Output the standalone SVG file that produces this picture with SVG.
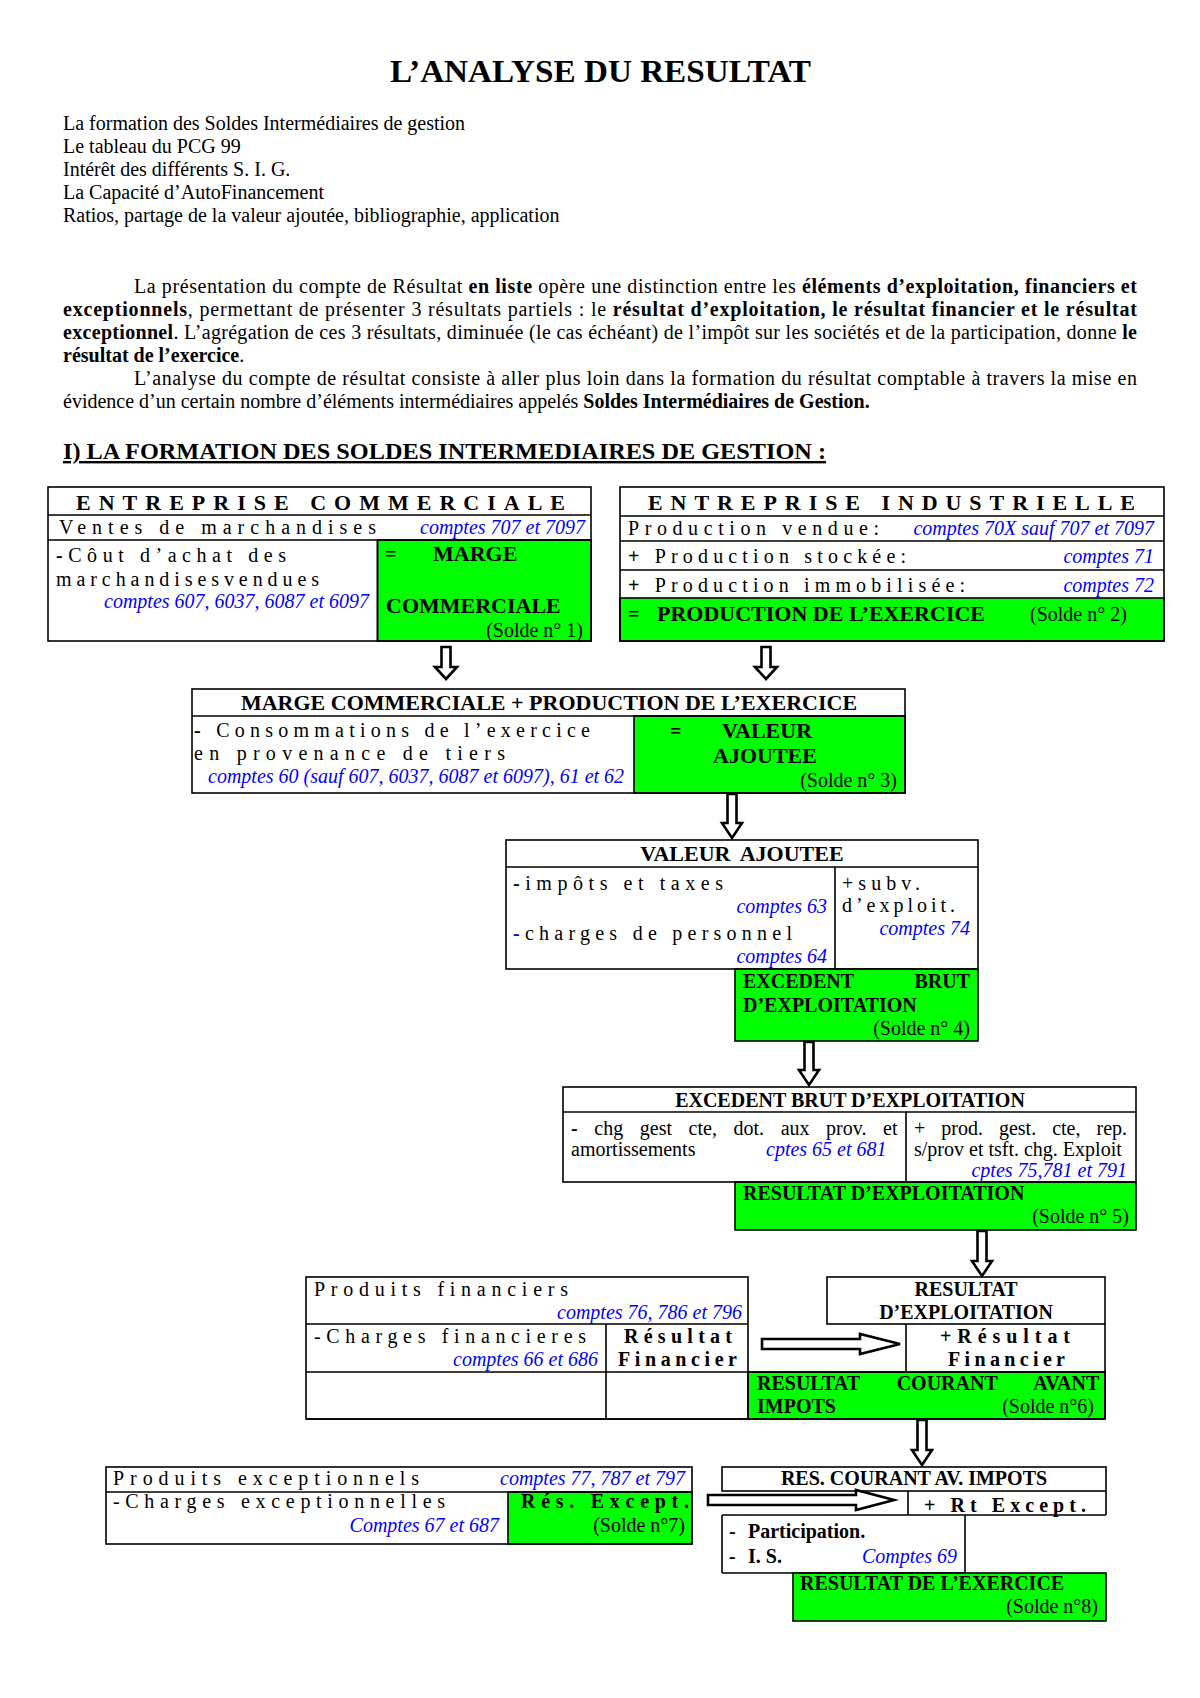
<svg xmlns="http://www.w3.org/2000/svg" width="1200" height="1698" viewBox="0 0 1200 1698">
<style>
text{font-family:"Liberation Serif","Times New Roman",serif;font-size:20px;fill:#000}
.b{font-weight:bold}
.h22{font-size:22px;font-weight:bold}
.i{font-style:italic;fill:#0000FF}
.e{text-anchor:end}
.m{text-anchor:middle}
.ln{fill:none;stroke:#000;stroke-width:1.6}
.g{fill:#00FF00;stroke:#000;stroke-width:1.6}
.arr{fill:#fff;stroke:#000;stroke-width:2.6;stroke-linejoin:miter}
</style>
<rect width="1200" height="1698" fill="#fff"/>

<g id="intro">
<text x="390" y="82" class="b" style="font-size:32px" textLength="421" lengthAdjust="spacingAndGlyphs">L’ANALYSE DU RESULTAT</text>
<text x="63" y="130">La formation des Soldes Intermédiaires de gestion</text>
<text x="63" y="153">Le tableau du PCG 99</text>
<text x="63" y="176">Intérêt des différents S. I. G.</text>
<text x="63" y="199">La Capacité d’AutoFinancement</text>
<text x="63" y="222">Ratios, partage de la valeur ajoutée, bibliographie, application</text>
<text x="134" y="293" textLength="1003" lengthAdjust="spacing">La présentation du compte de Résultat <tspan class="b">en liste</tspan> opère une distinction entre les <tspan class="b">éléments d’exploitation, financiers et</tspan></text>
<text x="63" y="316" textLength="1074" lengthAdjust="spacing"><tspan class="b">exceptionnels</tspan>, permettant de présenter 3 résultats partiels : le <tspan class="b">résultat d’exploitation, le résultat financier et le résultat</tspan></text>
<text x="63" y="339" textLength="1074" lengthAdjust="spacing"><tspan class="b">exceptionnel</tspan>. L’agrégation de ces 3 résultats, diminuée (le cas échéant) de l’impôt sur les sociétés et de la participation, donne <tspan class="b">le</tspan></text>
<text x="63" y="362"><tspan class="b">résultat de l’exercice</tspan>.</text>
<text x="134" y="385" textLength="1003" lengthAdjust="spacing">L’analyse du compte de résultat consiste à aller plus loin dans la formation du résultat comptable à travers la mise en</text>
<text x="63" y="408">évidence d’un certain nombre d’éléments intermédiaires appelés <tspan class="b">Soldes Intermédiaires de Gestion.</tspan></text>
<text x="63" y="459" class="b" style="font-size:24px;text-decoration:underline" textLength="763" lengthAdjust="spacingAndGlyphs">I) LA FORMATION DES SOLDES INTERMEDIAIRES DE GESTION :</text>
</g>

<g id="commerciale">
<rect x="377.5" y="540" width="213.5" height="101" class="g"/>
<rect x="48" y="487" width="543" height="154" class="ln"/>
<path d="M48 515H591M48 540H591M377.5 540V641" class="ln"/>
<text x="76" y="510" class="h22" textLength="489" lengthAdjust="spacing">ENTREPRISE COMMERCIALE</text>
<text x="59" y="534" textLength="317" lengthAdjust="spacing">Ventes de marchandises</text>
<text x="585" y="534" class="i e">comptes 707 et 7097</text>
<text x="56" y="562" textLength="230" lengthAdjust="spacing"><tspan class="b">-</tspan>Côut d’achat des</text>
<text x="56" y="586" textLength="263" lengthAdjust="spacing">marchandisesvendues</text>
<text x="369" y="608" class="i e">comptes 607, 6037, 6087 et 6097</text>
<text x="385" y="561" class="b">=</text>
<text x="433" y="561" class="h22">MARGE</text>
<text x="386" y="613" class="h22">COMMERCIALE</text>
<text x="583" y="637" class="e">(Solde n° 1)</text>
</g>

<g id="industrielle">
<rect x="620" y="598" width="544" height="43" class="g"/>
<rect x="620" y="487" width="544" height="154" class="ln"/>
<path d="M620 516H1164M620 541H1164M620 570H1164" class="ln"/>
<text x="648" y="510" class="h22" textLength="487" lengthAdjust="spacing">ENTREPRISE INDUSTRIELLE</text>
<text x="628" y="535" textLength="251" lengthAdjust="spacing">Production vendue:</text>
<text x="1154" y="535" class="i e">comptes 70X sauf 707 et 7097</text>
<text x="628" y="563" textLength="278" lengthAdjust="spacing"><tspan class="b">+</tspan> Production stockée:</text>
<text x="1154" y="563" class="i e">comptes 71</text>
<text x="628" y="592" textLength="337" lengthAdjust="spacing"><tspan class="b">+</tspan> Production immobilisée:</text>
<text x="1154" y="592" class="i e">comptes 72</text>
<text x="628" y="621" class="b">=</text>
<text x="657" y="621" class="h22">PRODUCTION DE L’EXERCICE</text>
<text x="1030" y="621">(Solde n° 2)</text>
</g>

<g id="valeur-ajoutee-formation">
<rect x="634" y="716" width="271" height="77" class="g"/>
<rect x="192" y="689" width="713" height="104" class="ln"/>
<path d="M192 716H905" class="ln"/>
<text x="549" y="710" class="h22 m">MARGE COMMERCIALE + PRODUCTION DE L’EXERCICE</text>
<text x="194" y="737" textLength="396" lengthAdjust="spacing"><tspan class="b">-</tspan> Consommations de l’exercice</text>
<text x="194" y="760" textLength="311" lengthAdjust="spacing">en provenance de tiers</text>
<text x="208" y="783" class="i">comptes 60 (sauf 607, 6037, 6087 et 6097), 61 et 62</text>
<text x="670" y="738" class="b">=</text>
<text x="722" y="738" class="h22">VALEUR</text>
<text x="713" y="763" class="h22">AJOUTEE</text>
<text x="897" y="787" class="e">(Solde n° 3)</text>
</g>

<g id="ebe-formation">
<rect x="735" y="969" width="243" height="72" class="g"/>
<rect x="506" y="840" width="472" height="129" class="ln"/>
<path d="M506 867H978M835 867V969" class="ln"/>
<text x="742" y="861" class="h22 m" word-spacing="5">VALEUR AJOUTEE</text>
<text x="513" y="890" textLength="210" lengthAdjust="spacing"><tspan class="b">-</tspan>impôts et taxes</text>
<text x="827" y="913" class="i e">comptes 63</text>
<text x="513" y="940" textLength="279" lengthAdjust="spacing"><tspan class="b" fill="#0000FF">-</tspan>charges de personnel</text>
<text x="827" y="963" class="i e">comptes 64</text>
<text x="842" y="890" textLength="78" lengthAdjust="spacing">+subv.</text>
<text x="842" y="912" textLength="113" lengthAdjust="spacing">d’exploit.</text>
<text x="970" y="935" class="i e">comptes 74</text>
<text x="743" y="988" class="b">EXCEDENT</text>
<text x="970" y="988" class="b e">BRUT</text>
<text x="743" y="1012" class="b">D’EXPLOITATION</text>
<text x="970" y="1035" class="e">(Solde n° 4)</text>
</g>

<g id="resultat-exploitation">
<rect x="735" y="1182" width="401" height="48" class="g"/>
<rect x="563" y="1087" width="573" height="95" class="ln"/>
<path d="M563 1112H1136M906 1112V1182" class="ln"/>
<text x="850" y="1107" class="b m">EXCEDENT BRUT D’EXPLOITATION</text>
<text x="571" y="1135" word-spacing="11.6"><tspan class="b">-</tspan> chg gest cte, dot. aux prov. et</text>
<text x="571" y="1156">amortissements</text>
<text x="766" y="1156" class="i">cptes 65 et 681</text>
<text x="914" y="1135" word-spacing="11">+ prod. gest. cte, rep.</text>
<text x="914" y="1156">s/prov et tsft. chg. Exploit</text>
<text x="1127" y="1177" class="i e">cptes 75,781 et 791</text>
<text x="743" y="1200" class="b">RESULTAT D’EXPLOITATION</text>
<text x="1129" y="1223" class="e">(Solde n° 5)</text>
</g>

<g id="resultat-courant">
<rect x="748" y="1372" width="357" height="47" class="g"/>
<rect x="306" y="1277" width="442" height="142" class="ln"/>
<path d="M306 1324H748M306 1372H1105M306 1419H1105M606 1324V1419M906 1324V1372M1105 1324V1419" class="ln"/>
<rect x="827" y="1277" width="278" height="47" class="ln"/>
<text x="314" y="1296" textLength="254" lengthAdjust="spacing">Produits financiers</text>
<text x="742" y="1319" class="i e">comptes 76, 786 et 796</text>
<text x="314" y="1343" textLength="272" lengthAdjust="spacing">-Charges financieres</text>
<text x="598" y="1366" class="i e">comptes 66 et 686</text>
<text x="624" y="1343" class="b" textLength="108" lengthAdjust="spacing">Résultat</text>
<text x="618" y="1366" class="b" textLength="119" lengthAdjust="spacing">Financier</text>
<text x="966" y="1296" class="b m">RESULTAT</text>
<text x="966" y="1319" class="b m">D’EXPLOITATION</text>
<text x="940" y="1343" class="b" textLength="130" lengthAdjust="spacing">+Résultat</text>
<text x="948" y="1366" class="b" textLength="117" lengthAdjust="spacing">Financier</text>
<text x="757" y="1390" class="b" word-spacing="32">RESULTAT COURANT AVANT</text>
<text x="757" y="1413" class="b">IMPOTS</text>
<text x="1094" y="1413" class="e">(Solde n°6)</text>
</g>

<g id="resultat-exceptionnel">
<rect x="508" y="1492" width="184" height="52" class="g"/>
<rect x="106" y="1467" width="586" height="77" class="ln"/>
<path d="M106 1492H692" class="ln"/>
<text x="113" y="1485" textLength="306" lengthAdjust="spacing">Produits exceptionnels</text>
<text x="685" y="1485" class="i e">comptes 77, 787 et 797</text>
<text x="113" y="1508" textLength="332" lengthAdjust="spacing">-Charges exceptionnelles</text>
<text x="499" y="1532" class="i e">Comptes 67 et 687</text>
<text x="521" y="1508" class="b" textLength="168" lengthAdjust="spacing">Rés. Except.</text>
<text x="685" y="1532" class="e">(Solde n°7)</text>
</g>

<g id="resultat-exercice">
<rect x="793" y="1573" width="313" height="48" class="g"/>
<rect x="722" y="1467" width="384" height="24" class="ln"/>
<path d="M908 1491V1515M1106 1491V1515M722 1515H1106M722 1515V1573M965 1515V1573M722 1573H965" class="ln"/>
<text x="914" y="1485" class="b m">RES. COURANT AV.  IMPOTS</text>
<text x="924" y="1512" class="b" textLength="162" lengthAdjust="spacing">+ Rt Except.</text>
<text x="729" y="1538" class="b">-</text>
<text x="748" y="1538" class="b">Participation.</text>
<text x="729" y="1563" class="b">-</text>
<text x="748" y="1563" class="b">I. S.</text>
<text x="957" y="1563" class="i e">Comptes 69</text>
<text x="800" y="1590" class="b">RESULTAT DE L’EXERCICE</text>
<text x="1098" y="1613" class="e">(Solde n°8)</text>
</g>

<g id="connectors">
<path class="arr" d="M441.5 647H450.5V667H457L446 679L435 667H441.5Z"/>
<path class="arr" d="M761.5 647H770.5V667H777L766 679L755 667H761.5Z"/>
<path class="arr" d="M727.5 794H736.5V823H742L732 838L722 823H727.5Z"/>
<path class="arr" d="M804.5 1042H813.5V1070H819L809 1085L799 1070H804.5Z"/>
<path class="arr" d="M977.5 1231H986.5V1261H992L982 1276L972 1261H977.5Z"/>
<path class="arr" d="M917.5 1420H926.5V1450H932L922 1465L912 1450H917.5Z"/>
<path class="arr" d="M762 1339H860V1334L900 1344L860 1354V1349H762Z"/>
<path class="arr" d="M708 1495H856V1490L894 1500L856 1510V1505H708Z"/>
</g>
</svg>
